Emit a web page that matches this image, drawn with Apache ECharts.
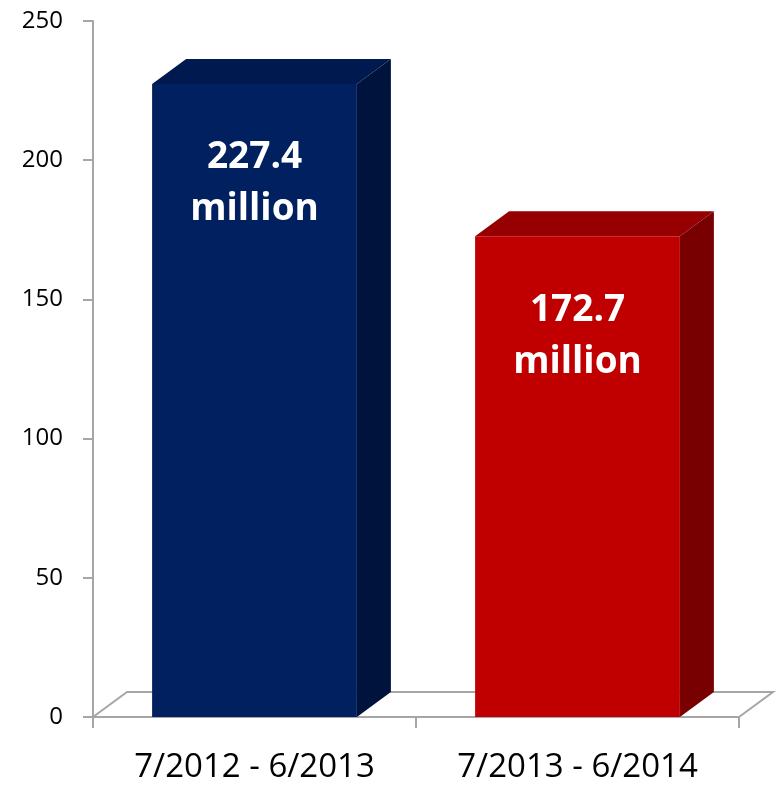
<!DOCTYPE html>
<html>
<head>
<meta charset="utf-8">
<script src="https://cdn.jsdelivr.net/npm/echarts@6/dist/echarts.min.js"></script>
<style>
  html, body { margin: 0; padding: 0; background: #ffffff; }
  #chart { width: 779px; height: 785px; }
</style>
</head>
<body>
<div id="chart"></div>
<script>
// Annual totals, in millions
const periods = ['7/2012 - 6/2013', '7/2013 - 6/2014'];
const totals = [227.4, 172.7];
const valueTicks = [0, 50, 100, 150, 200, 250];

// Face shades per bar: front, top, side
const barShades = [
  { front: '#002060', top: '#001a4f', side: '#00133d' },
  { front: '#c00000', top: '#960000', side: '#780000' }
];

const DEPTH_X = 34;   // oblique depth of the 3D boxes, px
const DEPTH_Y = -25;
const BAR_RATIO = 0.634;
const AXIS_GREY = '#a6a6a6';

const chart = echarts.init(document.getElementById('chart'));

function renderFloor(params, api) {
  const cs = params.coordSys;
  const x0 = cs.x, x1 = cs.x + cs.width, y0 = cs.y + cs.height;
  return {
    type: 'polyline',
    shape: {
      points: [
        [x0, y0],
        [x0 + DEPTH_X, y0 + DEPTH_Y],
        [x1 + DEPTH_X, y0 + DEPTH_Y],
        [x1, y0]
      ]
    },
    style: { stroke: AXIS_GREY, lineWidth: 2, fill: null },
    silent: true
  };
}

function renderBar(params, api) {
  const idx = api.value(0);
  const val = api.value(1);
  const top = api.coord([idx, val]);
  const base = api.coord([idx, 0]);
  const w = api.size([1, 0])[0] * BAR_RATIO;
  const xl = top[0] - w / 2, xr = top[0] + w / 2;
  const yt = top[1], yb = base[1];
  const c = barShades[params.dataIndex];
  return {
    type: 'group',
    children: [
      {
        type: 'polygon',
        shape: { points: [[xr, yb], [xr + DEPTH_X, yb + DEPTH_Y], [xr + DEPTH_X, yt + DEPTH_Y], [xr, yt]] },
        style: { fill: c.side }
      },
      {
        type: 'polygon',
        shape: { points: [[xl, yt], [xl + DEPTH_X, yt + DEPTH_Y], [xr + DEPTH_X, yt + DEPTH_Y], [xr, yt]] },
        style: { fill: c.top }
      },
      {
        type: 'rect',
        shape: { x: xl, y: yt, width: w, height: yb - yt },
        style: { fill: c.front }
      },
      {
        type: 'text',
        x: top[0],
        y: yt + 48,
        style: {
          text: val.toFixed(1) + '\nmillion',
          fill: '#ffffff',
          font: 'bold 37px "Open Sans", sans-serif',
          lineHeight: 52,
          align: 'center',
          verticalAlign: 'top'
        }
      }
    ]
  };
}

chart.setOption({
  animation: false,
  grid: { left: 93, right: 40, top: 21, bottom: 68 },
  xAxis: {
    type: 'category',
    data: periods,
    boundaryGap: true,
    axisLine: { show: true, lineStyle: { color: AXIS_GREY, width: 2 } },
    axisTick: { show: true, length: 11, lineStyle: { color: AXIS_GREY, width: 2 } },
    axisLabel: {
      margin: 34,
      color: '#000000',
      fontSize: 33,
      fontFamily: '"Open Sans", sans-serif'
    },
    splitLine: { show: false }
  },
  yAxis: {
    type: 'value',
    min: valueTicks[0],
    max: valueTicks[valueTicks.length - 1],
    interval: valueTicks[1] - valueTicks[0],
    axisLine: { show: true, lineStyle: { color: AXIS_GREY, width: 2 } },
    axisTick: { show: true, length: 10, lineStyle: { color: AXIS_GREY, width: 2 } },
    axisLabel: {
      margin: 30,
      color: '#000000',
      fontSize: 24,
      fontFamily: '"Open Sans", sans-serif'
    },
    splitLine: { show: false }
  },
  series: [
    {
      type: 'custom',
      name: 'floor',
      renderItem: renderFloor,
      data: [[0, 0]],
      z: 1,
      silent: true
    },
    {
      type: 'custom',
      name: 'totals',
      renderItem: renderBar,
      data: totals.map((v, i) => [i, v]),
      encode: { x: 0, y: 1 },
      z: 2
    }
  ]
});
</script>
</body>
</html>
